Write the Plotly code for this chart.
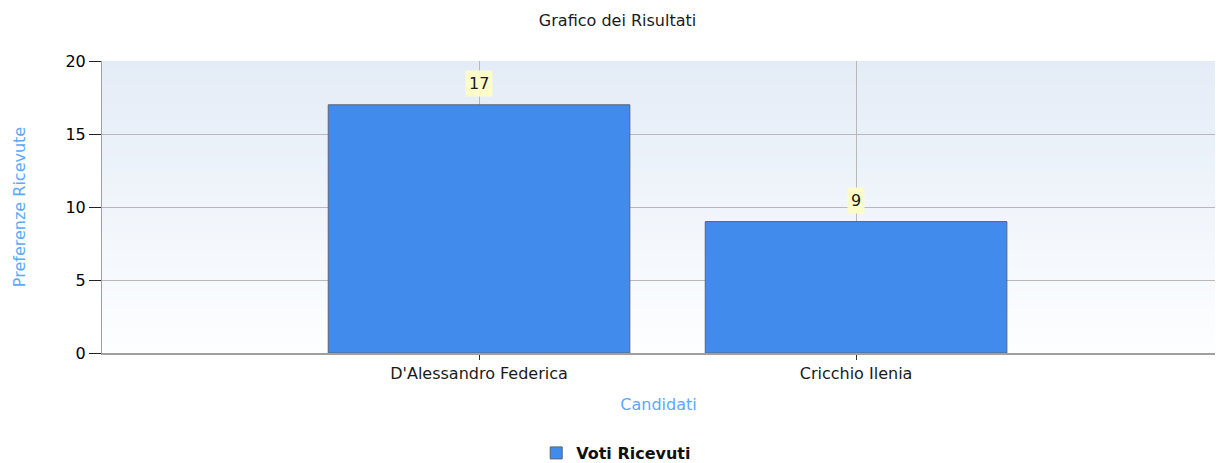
import plotly.graph_objects as go

categories = ["D'Alessandro Federica", "Cricchio Ilenia"]
votes = [17, 9]
series_name = "Voti Ricevuti"
y_ticks = [0, 5, 10, 15, 20]

FONT = "DejaVu Sans"
W, H = 1207, 455

fig = go.Figure()
fig.add_trace(go.Bar(
    x=categories, y=votes, name=series_name, width=0.8,
    marker=dict(color="#418bed", line=dict(color="#5a6473", width=1)),
    showlegend=True,
))

# value labels
for c, v in zip(categories, votes):
    fig.add_annotation(x=c, y=v, text=str(v), showarrow=False, yshift=21,
                       bgcolor="#fdfcc9", borderpad=3,
                       font=dict(family=FONT, size=16, color="#1a1a1a"))

# gradient background stripes (paper coords), overlapping to avoid seams
n = 60
top = (228, 236, 247)
bot = (253, 254, 255)
for i in range(n):
    t = i / (n - 1)
    col = tuple(round(top[k] + (bot[k] - top[k]) * t) for k in range(3))
    fig.add_shape(type="rect", xref="paper", yref="paper",
                  x0=0, x1=1, y0=max(0, 1 - (i + 2) / n), y1=1 - i / n,
                  fillcolor="rgb(%d,%d,%d)" % col, line=dict(width=0),
                  layer="below")

fig.update_layout(
    width=W, height=H,
    margin=dict(l=94, r=0, t=53, b=110, autoexpand=False),
    paper_bgcolor="white", plot_bgcolor="rgba(0,0,0,0)",
    font=dict(family=FONT, size=16, color="#1a1a1a"),
    title=dict(text="Grafico dei Risultati", x=0.505, xanchor="center",
               y=1 - 12 / H, yanchor="middle",
               font=dict(family=FONT, size=16, color="#1a1a1a")),
    xaxis=dict(range=[-1, 1.952], showgrid=True, gridcolor="#b8b8b8", gridwidth=1,
               showline=True, linecolor="#a0a0a0", linewidth=2,
               ticks="outside", ticklen=5, tickcolor="#333333",
               tickfont=dict(family=FONT, size=16, color="#1a1a1a"),
               title=dict(text="Candidati", standoff=17,
                          font=dict(family=FONT, size=16, color="#5aa9ff")),
               zeroline=False),
    yaxis=dict(range=[0, 20], tickvals=y_ticks, showgrid=True, gridcolor="#b8b8b8",
               gridwidth=1, showline=True, linecolor="#a0a0a0", linewidth=1,
               ticks="outside", ticklen=12, tickcolor="#222222",
               tickfont=dict(family=FONT, size=16, color="#000000"),
               title=dict(text="Preferenze Ricevute", standoff=35,
                          font=dict(family=FONT, size=16, color="#5aa9ff")),
               zeroline=False),
    legend=dict(orientation="h", x=0.462, xanchor="center",
                yref="container", y=1 - 428 / H, yanchor="top",
                font=dict(family=FONT, size=16, color="#111111", weight="bold")),
)

fig.write_html("out.html")
